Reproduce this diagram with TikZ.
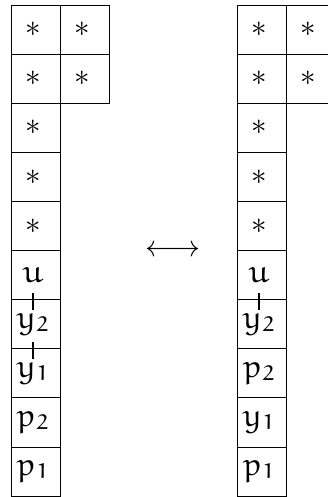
\documentclass[tikz,border=0pt]{standalone}
\font\eul=eurm10 at 32pt
\font\eulsub=eurm7 at 21pt
\font\sym=cmsy10 at 31pt
\font\arr=cmsy10 at 30pt
% Euler letter with a lowered Euler digit
\newcommand\lab[2]{{\eul #1}\raisebox{-3pt}{\eulsub #2}}
\newcommand\astsym{{\sym\char"03}}
\newcommand\lrarrow{{\arr\char"20\kern-5pt\char"21}}
% contents sit slightly left of the cell centre
\newcommand\cellx[1]{#1\kern5pt}
\tikzset{
  cell/.style={draw, line width=0.8pt, minimum width=49pt, minimum height=49.1pt,
    inner sep=0pt},
  tick/.style={line width=1.2pt},
}
\begin{document}
\begin{tikzpicture}[x=1pt,y=-1pt]
\useasboundingbox (0,0) rectangle (328,497);
\clip (0,0) rectangle (328,497);
% left column stack
\node[cell] (La0) at (35.5,29.55) {\cellx{\astsym}};
\node[cell] (Lb0) at (84.5,29.55) {\cellx{\astsym}};
\node[cell] (La1) at (35.5,78.65) {\cellx{\astsym}};
\node[cell] (Lb1) at (84.5,78.65) {\cellx{\astsym}};
\node[cell] (La2) at (35.5,127.75) {\cellx{\astsym}};
\node[cell] (La3) at (35.5,176.85) {\cellx{\astsym}};
\node[cell] (La4) at (35.5,225.95) {\cellx{\astsym}};
\node[cell] (Lu)  at (35.5,275.05) {\cellx{\eul u}};
\node[cell] (Ly2) at (35.5,324.15) {\cellx{\lab{y}{2}}};
\node[cell] (Ly1) at (35.5,373.25) {\cellx{\lab{y}{1}}};
\node[cell] (Lp2) at (35.5,422.35) {\cellx{\lab{p}{2}}};
\node[cell] (Lp1) at (35.5,471.45) {\cellx{\lab{p}{1}}};
% right column stack
\node[cell] (Ra0) at (261.5,29.55) {\cellx{\astsym}};
\node[cell] (Rb0) at (310.5,29.55) {\cellx{\astsym}};
\node[cell] (Ra1) at (261.5,78.65) {\cellx{\astsym}};
\node[cell] (Rb1) at (310.5,78.65) {\cellx{\astsym}};
\node[cell] (Ra2) at (261.5,127.75) {\cellx{\astsym}};
\node[cell] (Ra3) at (261.5,176.85) {\cellx{\astsym}};
\node[cell] (Ra4) at (261.5,225.95) {\cellx{\astsym}};
\node[cell] (Ru)  at (261.5,275.05) {\cellx{\eul u}};
\node[cell] (Ry2) at (261.5,324.15) {\cellx{\lab{y}{2}}};
\node[cell] (Rp2) at (261.5,373.25) {\cellx{\lab{p}{2}}};
\node[cell] (Ry1) at (261.5,422.35) {\cellx{\lab{y}{1}}};
\node[cell] (Rp1) at (261.5,471.45) {\cellx{\lab{p}{1}}};
% ticks joining adjacent cells
\draw[tick] ([xshift=-2.5pt,yshift=7pt]Lu.south) -- ([xshift=-2.5pt,yshift=-10pt]Lu.south);
\draw[tick] ([xshift=-2.5pt,yshift=7pt]Ly2.south) -- ([xshift=-2.5pt,yshift=-10pt]Ly2.south);
\draw[tick] ([xshift=-2.5pt,yshift=7pt]Ru.south) -- ([xshift=-2.5pt,yshift=-10pt]Ru.south);
% correspondence arrow
\node[inner sep=0pt] (arr) at (173,251) {\lrarrow};
\end{tikzpicture}
\end{document}
